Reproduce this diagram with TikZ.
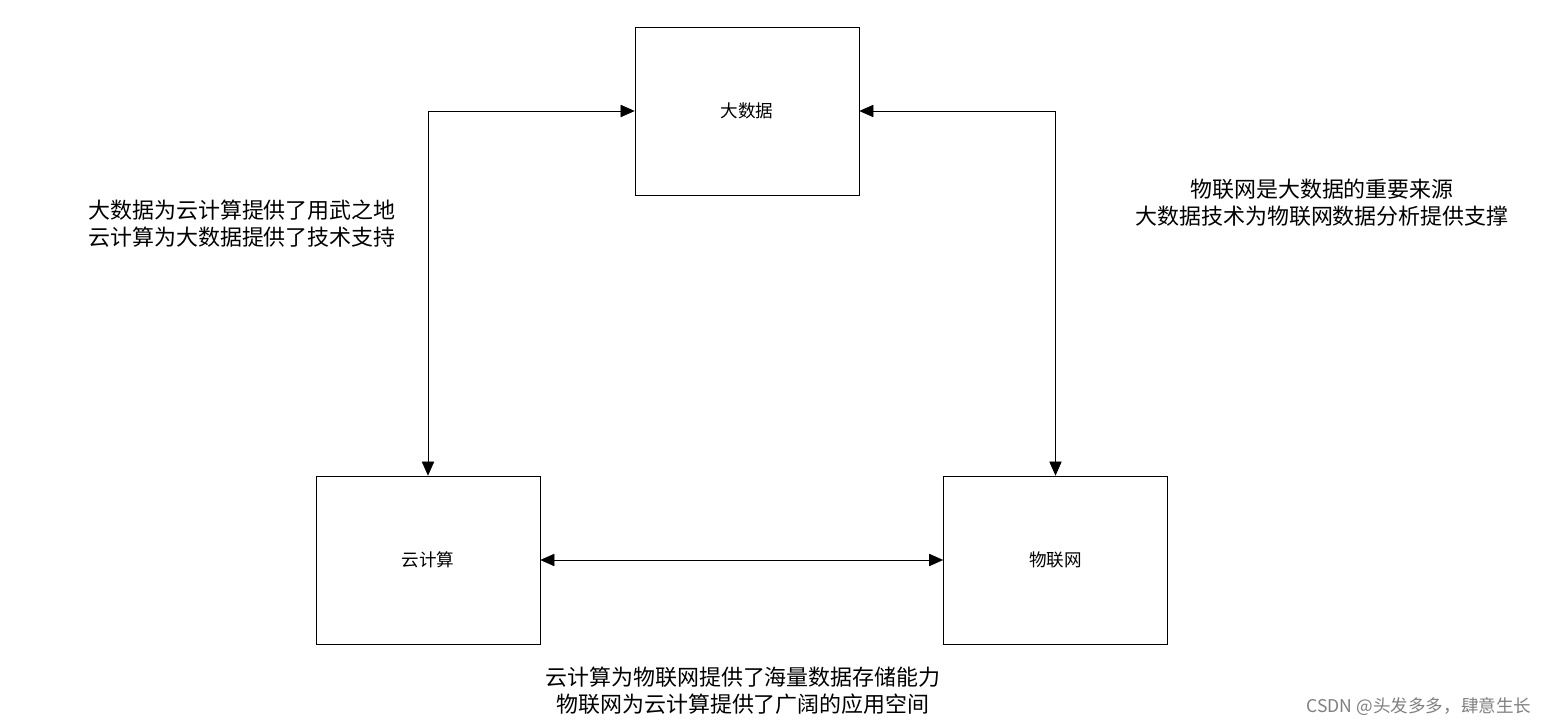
\documentclass[tikz,border=0pt]{standalone}
\usepackage{fontspec}
\setmainfont{Noto Sans CJK SC}
\usetikzlibrary{arrows.meta}

\begin{document}
\begin{tikzpicture}[x=0.02cm,y=-0.02cm] % 1 unit = 1 px of the reference
    \tikzstyle{box}=[draw, minimum width=4.48cm, minimum height=3.36cm, inner sep=0pt, font=\fontsize{10}{12}\selectfont]
    \tikzstyle{note}=[align=center, font=\fontsize{12.5}{15.5}\selectfont]
    \tikzstyle{link}=[{Triangle[length=8pt,width=7pt]}-{Triangle[length=8pt,width=7pt]}]
    \useasboundingbox (0,0) rectangle (1560,726);

    \node[box] (big) at (747,111) {大数据};
    \node[box] (cloud) at (428,560) {云计算};
    \node[box] (iot) at (1055.5,560) {物联网};

    \draw[link] (big.west) -| (cloud.north);
    \draw[link] (big.east) -| (iot.north);
    \draw[link] (cloud.east) -- (iot.west);

    % labels
    \node[note] (n1) at (242,224) {大数据为云计算提供了用武之地\\云计算为大数据提供了技术支持};
    \node[note] (n2) at (1322,203) {物联网是大数据的重要来源\\大数据技术为物联网数据分析提供支撑};
    \node[note] (n3) at (743,691) {云计算为物联网提供了海量数据存储能力\\物联网为云计算提供了广阔的应用空间};
    \node[gray, font=\fontsize{10}{12}\selectfont] (mark) at (1419,707) {CSDN @头发多多，肆意生长};
\end{tikzpicture}
\end{document}
